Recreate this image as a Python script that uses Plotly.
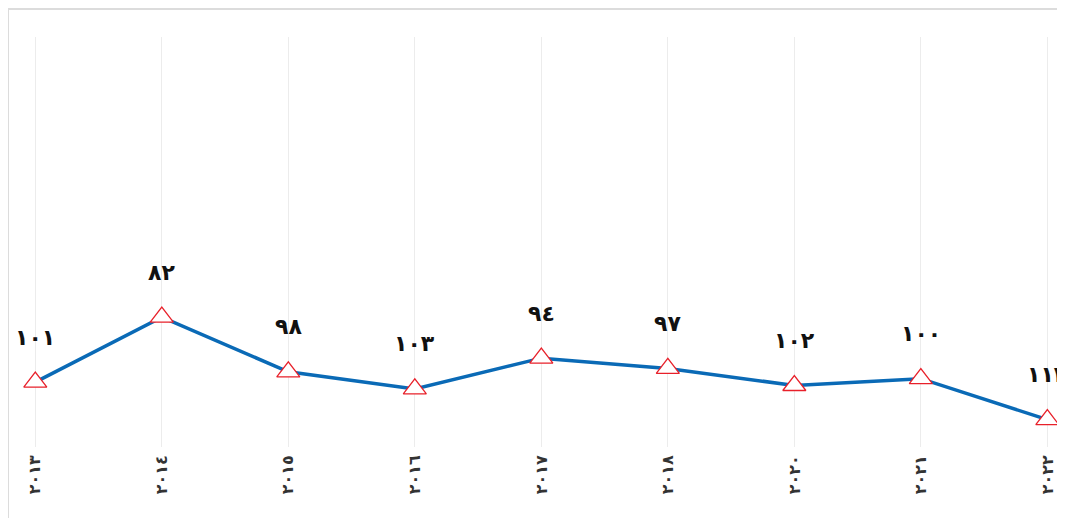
import plotly.graph_objects as go

years = ["٢٠١٣", "٢٠١٤", "٢٠١٥", "٢٠١٦", "٢٠١٧", "٢٠١٨", "٢٠٢٠", "٢٠٢١", "٢٠٢٢"]
ranks = [101, 82, 98, 103, 94, 97, 102, 100, 112]

AR = str.maketrans("0123456789", "٠١٢٣٤٥٦٧٨٩")
rank_labels = [str(v).translate(AR) for v in ranks]

fig = go.Figure()
fig.add_trace(go.Scatter(
    x=years, y=ranks, mode="lines+markers",
    line=dict(color="#0a6ab6", width=3.5),
    marker=dict(symbol="triangle-up", size=20, color="white",
                line=dict(color="#e8202a", width=1.3)),
    cliponaxis=False, hoverinfo="skip",
))

for x, y, t in zip(years, ranks, rank_labels):
    fig.add_annotation(x=x, y=y, text="<b>" + t + "</b>", showarrow=False,
                       yshift=45, font=dict(family="DejaVu Sans", size=22, color="#111"))

fig.add_shape(type="rect", xref="paper", yref="paper",
              x0=-0.0019, x1=1.2, y0=-0.3, y1=1.068,
              line=dict(color="#dcdcdc", width=2), fillcolor="rgba(0,0,0,0)", layer="below")

fig.update_layout(
    width=1057, height=510,
    margin=dict(l=2, r=5, t=29, b=71),
    paper_bgcolor="white", plot_bgcolor="white",
    showlegend=False,
    xaxis=dict(type="category", range=[-0.2, 8.1], showgrid=True, gridcolor="#ececec",
               gridwidth=1, tickangle=-90, ticks="", showline=False, zeroline=False,
               ticklabelstandoff=4,
               tickfont=dict(family="DejaVu Sans", size=16, color="#333", weight="bold")),
    yaxis=dict(range=[120, 0], showgrid=False, showticklabels=False, zeroline=False,
               showline=False, ticks=""),
)

fig.write_html("out.html")
